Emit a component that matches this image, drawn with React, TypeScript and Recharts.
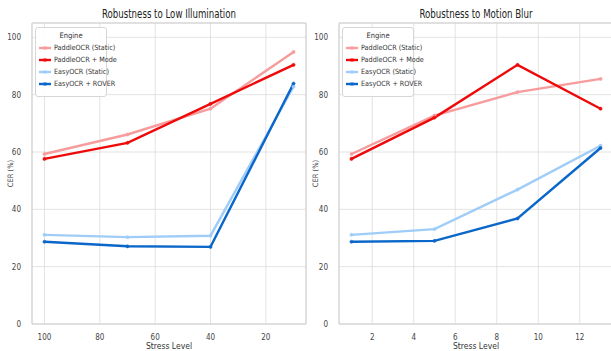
import React from 'react';
import { LineChart, Line, XAxis, YAxis, CartesianGrid, ReferenceArea } from 'recharts';

const seriesNames = ['PaddleOCR (Static)', 'PaddleOCR + Mode', 'EasyOCR (Static)', 'EasyOCR + ROVER'];
const seriesKeys = ['paddleStatic', 'paddleMode', 'easyStatic', 'easyRover'];
const seriesColors = ['#f79c9c', '#ee0a0a', '#9fcdf7', '#0a66c8'];

const illumLevels = [100, 70, 40, 10];
const illumPaddleStatic = [59.3, 66.1, 75.1, 94.9];
const illumPaddleMode = [57.6, 63.2, 76.8, 90.4];
const illumEasyStatic = [31.1, 30.3, 30.8, 82.8];
const illumEasyRover = [28.7, 27.1, 26.9, 83.9];

const blurLevels = [1, 5, 9, 13];
const blurPaddleStatic = [59.3, 72.7, 80.9, 85.5];
const blurPaddleMode = [57.6, 72.0, 90.4, 75.1];
const blurEasyStatic = [31.1, 33.1, 46.9, 62.2];
const blurEasyRover = [28.7, 29.0, 36.8, 61.4];

const yTicks = [0, 20, 40, 60, 80, 100];
const illumTicks = [20, 40, 60, 80, 100];
const blurTicks = [2, 4, 6, 8, 10, 12];

const buildRows = (xs: number[], cols: number[][]) =>
  xs.map((x, i) => {
    const row: Record<string, number> = { x };
    seriesKeys.forEach((k, j) => {
      row[k] = cols[j][i];
    });
    return row;
  });

const illumData = buildRows(illumLevels, [illumPaddleStatic, illumPaddleMode, illumEasyStatic, illumEasyRover]);
const blurData = buildRows(blurLevels, [blurPaddleStatic, blurPaddleMode, blurEasyStatic, blurEasyRover]);

const FONT = "'DejaVu Sans Condensed', 'Liberation Sans Narrow', 'DejaVu Sans', sans-serif";
const TICK = { fontSize: 8, fill: '#444', fontFamily: FONT };

const LegendBox = ({ left }: { left: number }) => (
  <div
    style={{
      position: 'absolute',
      left,
      top: 27,
      width: 72,
      height: 70,
      background: 'rgba(255,255,255,0.9)',
      border: '1px solid #d6d6d6',
      borderRadius: 3,
      fontFamily: FONT,
      fontSize: 7.2,
      color: '#333',
      boxSizing: 'border-box',
      paddingTop: 1,
    }}
  >
    <div style={{ textAlign: 'center', fontSize: 7.5, height: 13, lineHeight: '13px' }}>Engine</div>
    {seriesNames.map((n, i) => (
      <div key={n} style={{ display: 'flex', alignItems: 'center', height: 12, lineHeight: '12px' }}>
        <svg width={14} height={6} style={{ marginLeft: 2, marginRight: 2, flexShrink: 0 }}>
          <line x1={1} y1={3} x2={13} y2={3} stroke={seriesColors[i]} strokeWidth={2.4} />
          <rect x={5.5} y={1.5} width={3} height={3} fill={seriesColors[i]} />
        </svg>
        <span style={{ whiteSpace: 'nowrap' }}>{n}</span>
      </div>
    ))}
  </div>
);

type PanelProps = {
  data: Record<string, number>[];
  domain: [number, number];
  ticks: number[];
  reversed: boolean;
  title: string;
  width: number;
  yAxisWidth: number;
  marginRight: number;
  titleWidth: number;
};

const Panel = ({ data, domain, ticks, reversed, title, width, yAxisWidth, marginRight, titleWidth }: PanelProps) => {
  const plotLeft = yAxisWidth;
  const plotRight = width - marginRight;
  const cx = (plotLeft + plotRight) / 2;
  return (
    <div style={{ position: 'relative', width, height: 351 }}>
      <LineChart width={width} height={351} data={data} margin={{ top: 23, right: marginRight, bottom: 0, left: 0 }}>
        <CartesianGrid stroke="#dcdcdc" strokeWidth={0.8} />
        <XAxis
          dataKey="x"
          type="number"
          domain={domain}
          ticks={ticks}
          reversed={reversed}
          allowDataOverflow
          axisLine={false}
          tickLine={false}
          tick={TICK}
          tickMargin={4}
          height={27}
          label={{ value: 'Stress Level', position: 'insideBottom', offset: 2, fontSize: 8.5, fill: '#333', fontFamily: FONT }}
        />
        <YAxis
          type="number"
          domain={[0, 105]}
          ticks={yTicks}
          allowDataOverflow
          axisLine={false}
          tickLine={false}
          tick={TICK}
          tickMargin={5}
          width={yAxisWidth}
          label={{ value: 'CER (%)', angle: -90, position: 'insideLeft', offset: 10, fontSize: 7.5, fill: '#444', fontFamily: FONT, style: { textAnchor: 'middle' } }}
        />
        <ReferenceArea x1={domain[0]} x2={domain[1]} y1={0} y2={105} fill="none" stroke="#cfcfcf" strokeWidth={1} ifOverflow="visible" />
        {seriesKeys.map((k, i) => (
          <Line
            key={k}
            dataKey={k}
            name={seriesNames[i]}
            stroke={seriesColors[i]}
            strokeWidth={2.4}
            dot={{ r: 1.6, fill: seriesColors[i], stroke: seriesColors[i], strokeWidth: 0.5 }}
            isAnimationActive={false}
          />
        ))}
      </LineChart>
      <LegendBox left={plotLeft + 3} />
      <svg style={{ position: 'absolute', left: 0, top: 0, pointerEvents: 'none' }} width={width} height={22}>
        <text x={cx} y={18} textAnchor="middle" fontSize={13} fill="#222" fontFamily={FONT} textLength={titleWidth} lengthAdjust="spacingAndGlyphs">
          {title}
        </text>
      </svg>
    </div>
  );
};

export default function App() {
  return (
    <div style={{ position: 'absolute', left: 0, top: 0, width: 611, height: 351, overflow: 'hidden', background: '#fff' }}>
      <div style={{ position: 'absolute', left: 0, top: 0 }}>
        <Panel
          data={illumData}
          domain={[5.5, 104.5]}
          ticks={illumTicks}
          reversed
          title="Robustness to Low Illumination"
          width={320}
          yAxisWidth={32}
          marginRight={14}
          titleWidth={134}
        />
      </div>
      <div style={{ position: 'absolute', left: 305, top: 0 }}>
        <Panel
          data={blurData}
          domain={[0.4, 13.6]}
          ticks={blurTicks}
          reversed={false}
          title="Robustness to Motion Blur"
          width={310}
          yAxisWidth={34}
          marginRight={2}
          titleWidth={113}
        />
      </div>
    </div>
  );
}
